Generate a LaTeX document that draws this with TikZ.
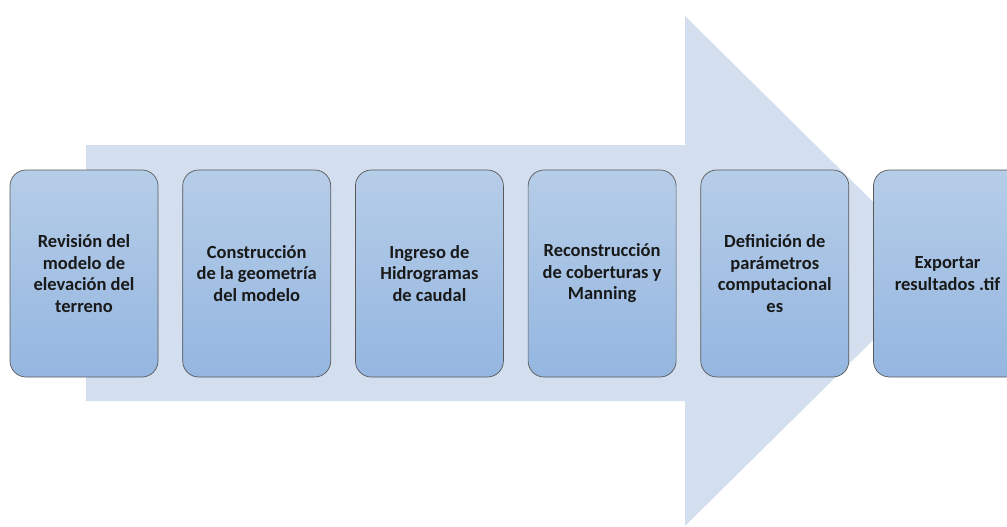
\documentclass[tikz,border=0pt]{standalone}
\usepackage{fontspec}
\setmainfont{Carlito}
\usetikzlibrary{positioning}
\definecolor{flecha}{HTML}{D3DEEE}
\definecolor{cajaarriba}{HTML}{B6CDE8}
\definecolor{cajaabajo}{HTML}{94B6E0}
\begin{document}
\begin{tikzpicture}[x=1pt, y=-1pt, node distance={24pt}, paso/.style = {draw=black!65, line width=0.7pt, rounded corners=16pt, top color=cajaarriba, bottom color=cajaabajo, minimum width=148pt, minimum height=207pt, inner sep=0pt, align=center, text=black!90, font=\fontsize{18.5}{21.5}\selectfont\bfseries}]
\useasboundingbox (0,0) rectangle (1007,527);
% flecha de fondo
\fill[flecha] (86,145) -- (685,145) -- (685,16) -- (943,271) -- (685,526) -- (685,401) -- (86,401) -- cycle;
\node[paso] (1) at (84,273.5) {Revisión del\\modelo de\\elevación del\\terreno};
\node[paso] (2) [right=of 1] {Construcción\\de la geometría\\del modelo};
\node[paso] (3) [right=of 2] {Ingreso de\\Hidrogramas\\de caudal};
\node[paso] (4) [right=of 3] {Reconstrucción\\de coberturas y\\Manning};
\node[paso] (5) [right=of 4] {Definición de\\parámetros\\computacional\\es};
\node[paso] (6) [right=of 5] {Exportar\\resultados .tif};
\end{tikzpicture}
\end{document}
